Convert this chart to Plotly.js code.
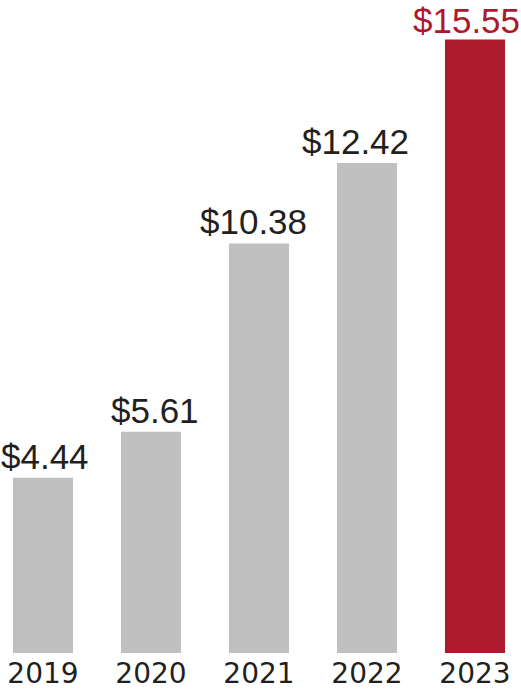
<!DOCTYPE html>
<html><head><meta charset="utf-8">
<script src="https://cdn.plot.ly/plotly-3.0.1.min.js"></script>
<style>html,body{margin:0;padding:0;background:#fff}</style>
</head><body><div id="chart" style="width:521px;height:690px"></div>
<script>
const years = ["2019","2020","2021","2022","2023"];
const values = [4.44, 5.61, 10.38, 12.42, 15.55];
const labels = ["$4.44","$5.61","$10.38","$12.42","$15.55"];
const barColors = ["#c0c0c0","#c0c0c0","#c0c0c0","#c0c0c0","#ab1a2d"];
const labelColors = ["#231f20","#231f20","#231f20","#231f20","#ab1a2d"];
const labelXShift = [2, 4, -5, -11, -8];
const labelYShift = [1, 1, 1, 1, -2];

const trace = {
  type: "bar", x: years, y: values,
  marker: {color: barColors}, hoverinfo: "none"
};
const annotations = years.map((yr, i) => ({
  x: i, y: values[i], xref: "x", yref: "y", text: labels[i],
  showarrow: false, yanchor: "bottom", xanchor: "center", borderpad: 0,
  yshift: labelYShift[i], xshift: labelXShift[i],
  font: {family: "Liberation Sans", size: 35, color: labelColors[i]}
}));
const layout = {
  width: 521, height: 690,
  margin: {l: 0, r: 0, t: 0, b: 37},
  paper_bgcolor: "#fff", plot_bgcolor: "#fff",
  bargap: 0.444, showlegend: false,
  annotations: annotations,
  xaxis: {type: "category", range: [-0.398, 4.426], showgrid: false, zeroline: false,
    showline: false, ticks: "", ticklabelstandoff: 1,
    tickfont: {family: "DejaVu Sans", size: 28, color: "#231f20"}},
  yaxis: {range: [0, 16.55], visible: false, showgrid: false, zeroline: false}
};
Plotly.newPlot("chart", [trace], layout, {staticPlot: true, displayModeBar: false});
</script></body></html>
